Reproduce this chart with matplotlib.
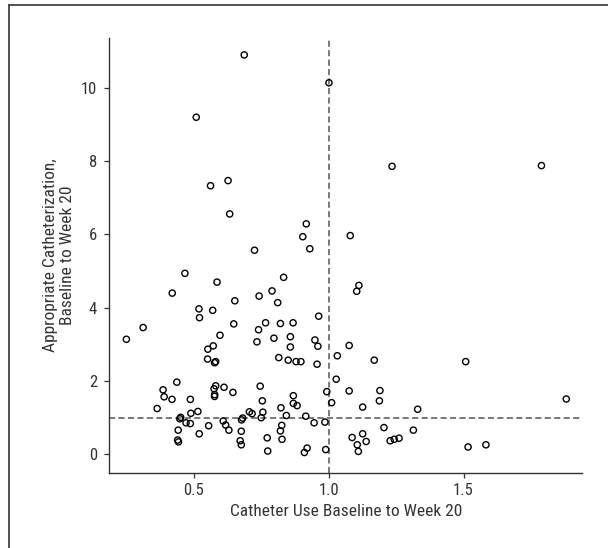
import matplotlib
matplotlib.use('Agg')
import matplotlib.pyplot as plt
from matplotlib.lines import Line2D
from matplotlib import font_manager

# pick a condensed sans if one is installed
installed = {f.name for f in font_manager.fontManager.ttflist}
preferred = ['Liberation Sans Narrow', 'Roboto Condensed', 'DejaVu Sans Condensed',
             'Open Sans Condensed', 'Liberation Sans']
fam = [f for f in preferred if f in installed] or ['DejaVu Sans']
plt.rcParams['font.family'] = [fam[0], 'DejaVu Sans']
if fam[0] == 'Liberation Sans':
    plt.rcParams['font.stretch'] = 'condensed'

# catheter use ratio (x) and appropriate catheterization ratio (y)
catheter_use = [
    0.687, 1.001, 0.509, 1.235, 1.789, 0.562, 0.627, 0.633, 0.917, 0.904,
    1.080, 0.930, 0.725, 0.467, 0.586, 0.833, 1.112, 1.104, 0.790, 0.420,
    0.742, 0.652, 0.811, 0.519, 0.570, 0.521, 0.963, 0.312, 0.648, 0.766,
    0.821, 0.868, 0.740, 0.250, 0.597, 0.858, 0.797, 0.949, 0.734, 0.572,
    0.552, 0.858, 0.960, 1.076, 1.032, 0.551, 0.815, 0.581, 0.577, 0.850,
    0.879, 0.897, 1.169, 1.508, 0.957, 1.028, 0.437, 0.746, 0.581, 0.386,
    0.575, 0.612, 0.993, 1.076, 1.190, 0.390, 0.419, 0.487, 0.577, 0.577,
    0.645, 0.754, 0.869, 1.188, 1.881, 1.011, 0.869, 0.883, 0.364, 0.823,
    1.126, 1.330, 0.515, 0.706, 0.756, 0.489, 0.716, 0.451, 0.448, 0.681,
    0.843, 0.750, 0.915, 0.677, 0.609, 0.471, 0.487, 0.618, 0.826, 0.946,
    0.986, 0.555, 1.205, 0.442, 0.630, 0.676, 0.821, 1.314, 0.520, 1.126,
    0.772, 1.087, 0.827, 1.261, 1.243, 1.228, 0.440, 0.443, 0.672, 1.139,
    0.676, 1.106, 1.583, 1.517, 0.920, 0.989, 0.774, 0.910, 1.110,
]
appropriate_cath = [
    10.90, 10.14, 9.20, 7.86, 7.88, 7.33, 7.47, 6.56, 6.29, 5.94,
    5.97, 5.61, 5.57, 4.94, 4.70, 4.83, 4.61, 4.45, 4.46, 4.40,
    4.32, 4.19, 4.14, 3.97, 3.93, 3.73, 3.77, 3.46, 3.56, 3.59,
    3.57, 3.59, 3.40, 3.14, 3.25, 3.21, 3.17, 3.12, 3.07, 2.96,
    2.87, 2.93, 2.95, 2.97, 2.69, 2.60, 2.64, 2.53, 2.50, 2.57,
    2.53, 2.53, 2.57, 2.53, 2.46, 2.05, 1.97, 1.86, 1.87, 1.76,
    1.79, 1.83, 1.71, 1.73, 1.74, 1.57, 1.50, 1.50, 1.63, 1.58,
    1.69, 1.46, 1.60, 1.46, 1.51, 1.41, 1.39, 1.33, 1.25, 1.27,
    1.29, 1.23, 1.17, 1.16, 1.15, 1.12, 1.11, 1.01, 0.97, 0.99,
    1.06, 1.00, 1.04, 0.94, 0.91, 0.86, 0.84, 0.80, 0.79, 0.86,
    0.88, 0.78, 0.73, 0.66, 0.66, 0.63, 0.64, 0.66, 0.56, 0.56,
    0.45, 0.46, 0.41, 0.44, 0.41, 0.37, 0.39, 0.34, 0.37, 0.35,
    0.26, 0.26, 0.26, 0.20, 0.17, 0.13, 0.09, 0.05, 0.08,
]

x_ticks = [0.5, 1.0, 1.5]
x_tick_labels = ['0.5', '1.0', '1.5']
y_ticks = [0, 2, 4, 6, 8, 10]
ref_x = 1.0
ref_y = 1.0

axis_col = '#333333'

fig = plt.figure(figsize=(6.08, 5.48), dpi=100)
ax = fig.add_axes([0.1795, 0.1375, 0.7785, 0.793])

ax.scatter(catheter_use, appropriate_cath, s=20, facecolors='none',
           edgecolors='black', linewidths=1.0, zorder=3)

# reference lines at 1
ax.axvline(ref_x, color='#555555', lw=1.1, ls=(0, (4, 2.2)), zorder=2)
ax.axhline(ref_y, color='#555555', lw=1.1, ls=(0, (4, 2.2)), zorder=2)

ax.set_xlim(0.186, 1.941)
ax.set_ylim(-0.50, 11.36)
ax.set_xticks(x_ticks)
ax.set_xticklabels(x_tick_labels)
ax.set_yticks(y_ticks)

for side in ['top', 'right']:
    ax.spines[side].set_visible(False)
for side in ['left', 'bottom']:
    ax.spines[side].set_color(axis_col)
    ax.spines[side].set_linewidth(1.0)

ax.tick_params(direction='out', length=3.6, width=0.9, color=axis_col,
               labelcolor=axis_col, labelsize=12)
ax.tick_params(axis='x', pad=4)
ax.tick_params(axis='y', pad=5)

ax.set_xlabel('Catheter Use Baseline to Week 20', fontsize=12.5,
              color=axis_col)
ax.xaxis.set_label_coords(0.5, -0.071)
ax.set_ylabel('Appropriate Catheterization,\nBaseline to Week 20',
              fontsize=12.5, color=axis_col, linespacing=1.1, va='center')
ax.yaxis.set_label_coords(-0.106, 0.5)

# outer frame (left and top only)
fig.add_artist(Line2D([8.7 / 608, 8.7 / 608], [0, 1 - 5.3 / 548],
                      transform=fig.transFigure, color='#444444', lw=1.3))
fig.add_artist(Line2D([8.7 / 608, 1], [1 - 5.3 / 548, 1 - 5.3 / 548],
                      transform=fig.transFigure, color='#444444', lw=1.3))

fig.savefig('out.png', dpi=100)
